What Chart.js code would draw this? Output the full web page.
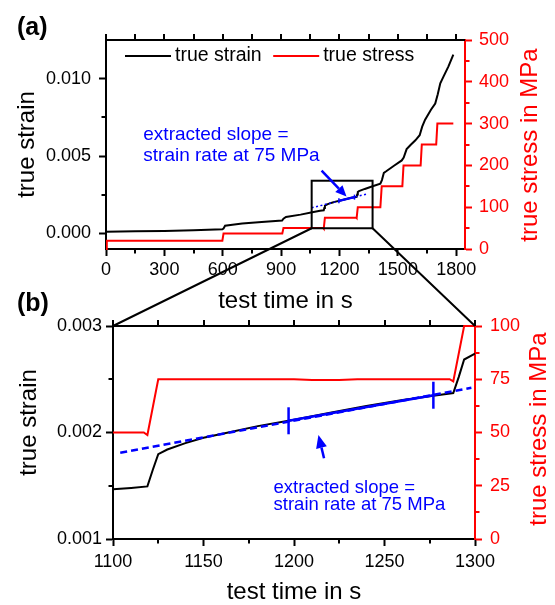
<!DOCTYPE html>
<html>
<head>
<meta charset="utf-8">
<script src="https://cdn.jsdelivr.net/npm/chart.js@4.4.1/dist/chart.umd.min.js"></script>
<style>
  html, body { margin:0; padding:0; background:#ffffff; }
  #wrap { position:relative; width:555px; height:605px; overflow:hidden; background:#fff; }
  #wrap canvas { position:absolute; left:0; }
</style>
</head>
<body>
<div id="wrap">
  <canvas id="chartB" width="555" height="315" style="top:290px;width:555px;height:315px"></canvas>
  <canvas id="chartA" width="555" height="320" style="top:0px;width:555px;height:320px"></canvas>
  <canvas id="links" width="555" height="605" style="top:0px;width:555px;height:605px;pointer-events:none"></canvas>
</div>
<script>
// ---------------- data ----------------
const strainTime = [0, 150, 300, 450, 598, 604, 612, 650, 700, 800, 905, 912, 925, 1000, 1060, 1100, 1110, 1119, 1122, 1125, 1130, 1140, 1150, 1165, 1180, 1200, 1220, 1240, 1260, 1278, 1288, 1291, 1294, 1300, 1330, 1370, 1410, 1418, 1428, 1440, 1480, 1520, 1530, 1545, 1565, 1590, 1612, 1625, 1640, 1670, 1692, 1705, 1718, 1735, 1760, 1785];
const strainValues = [0.00012, 0.00014, 0.00017, 0.00021, 0.00027, 0.00032, 0.00050, 0.00057, 0.00064, 0.00074, 0.00084, 0.00096, 0.00107, 0.00122, 0.00137, 0.001466, 0.00148, 0.001494, 0.00165, 0.001797, 0.00184, 0.0019, 0.00195, 0.002005, 0.00206, 0.00212, 0.002185, 0.00225, 0.002305, 0.002348, 0.00237, 0.00252, 0.002685, 0.00274, 0.00288, 0.00305, 0.00322, 0.00345, 0.00392, 0.00402, 0.00438, 0.00472, 0.0049, 0.00545, 0.00572, 0.00602, 0.00635, 0.0069, 0.00735, 0.008, 0.0084, 0.009, 0.0097, 0.01015, 0.0108, 0.01155];
const stressTime = [0, 4, 598, 604, 906, 912, 1117, 1119, 1125, 1200, 1210, 1225, 1235, 1286, 1288, 1294, 1410, 1417, 1523, 1529, 1617, 1623, 1697, 1703, 1785];
const stressValues = [0, 20, 20, 37, 37, 50, 50, 48.8, 75, 75, 74.6, 74.6, 75, 75, 74, 100, 100, 150, 150, 200, 200, 250, 250, 300, 300];
// extracted slope (linear fit) end points in panel (a) and (b)
const fitTimeA = [1057, 1340];
const fitStrainA = [0.00166, 0.00255];
const fitTimeB = [1104, 1298];
const fitStrainB = [0.00181, 0.00242];
// limits of the fitted interval
const markerTime = [1197, 1277];
const markerStrain = [0.00211, 0.00235];
// tick values
const xTicksA = [0, 300, 600, 900, 1200, 1500, 1800];
const xMinorA = [150, 450, 750, 1050, 1350, 1650];
const yTicksA = [0, 0.005, 0.010];
const yMinorA = [0.0025, 0.0075];
const y2TicksA = [0, 100, 200, 300, 400, 500];
const y2MinorA = [50, 150, 250, 350, 450];
const xTicksB = [1100, 1150, 1200, 1250, 1300];
const xMinorB = [1125, 1175, 1225, 1275];
const yTicksB = [0.001, 0.002, 0.003];
const yMinorB = [0.0015, 0.0025];
const y2TicksB = [0, 25, 50, 75, 100];
const y2MinorB = [12.5, 37.5, 62.5, 87.5];
// zoom window drawn as the box in (a)
const zoomBoxTime = [1057, 1370];
const zoomBoxStrain = [0.00034, 0.00341];
// texts
const annotationLines = ['extracted slope =', 'strain rate at 75 MPa'];
const xTitle = 'test time in s';
const yTitle = 'true strain';
const y2Title = 'true stress in MPa';

// ---------------- drawing ----------------
const FONT = "'Liberation Sans', Arial, Helvetica, sans-serif";
Chart.defaults.font.family = FONT;
const RED = '#ff0000', BLUE = '#0000ff', BLACK = '#000000';
const pts = (xs, ys) => xs.map((x, i) => ({x: x, y: ys[i]}));

function xAxis(o) {
  return {
    type: 'linear', position: 'bottom', min: o.min, max: o.max,
    afterBuildTicks: s => { s.ticks = o.ticks.map(v => ({value: v})); },
    afterFit: s => { s.height = o.height; },
    border: {display: true, color: BLACK, width: 2},
    grid: {display: true, drawOnChartArea: false, drawTicks: true, tickLength: 7, tickWidth: 2, tickColor: BLACK},
    ticks: {color: BLACK, font: {size: 18}, padding: o.pad, maxRotation: 0, minRotation: 0, autoSkip: false, callback: v => String(v)},
    title: {display: true, text: xTitle, color: BLACK, font: {size: 24, lineHeight: o.titleLH}, padding: {top: 0, bottom: o.titlePad}}
  };
}
function yAxis(o) {
  return {
    type: 'linear', position: o.position, min: o.min, max: o.max,
    afterBuildTicks: s => { s.ticks = o.ticks.map(v => ({value: v})); },
    afterFit: s => { s.width = o.width; },
    border: {display: true, color: o.color, width: 2},
    grid: {display: true, drawOnChartArea: false, drawTicks: true, tickLength: 7, tickWidth: 2, tickColor: o.color},
    ticks: {color: o.color, font: {size: 18}, padding: o.pad, autoSkip: false, callback: o.fmt},
    title: {display: false}
  };
}
function seg(ctx, x1, y1, x2, y2) { ctx.beginPath(); ctx.moveTo(x1, y1); ctx.lineTo(x2, y2); ctx.stroke(); }
function arrow(ctx, x1, y1, x2, y2, headLen, headW, lw) {
  const ang = Math.atan2(y2 - y1, x2 - x1);
  const bx = x2 - headLen * Math.cos(ang), by = y2 - headLen * Math.sin(ang);
  ctx.lineWidth = lw;
  seg(ctx, x1, y1, bx, by);
  ctx.beginPath();
  ctx.moveTo(x2, y2);
  ctx.lineTo(bx + headW / 2 * Math.sin(ang), by - headW / 2 * Math.cos(ang));
  ctx.lineTo(bx - headW / 2 * Math.sin(ang), by + headW / 2 * Math.cos(ang));
  ctx.closePath(); ctx.fill();
}
function framePlugin(id, o) {
  return {
    id: id,
    beforeDatasetsDraw(chart) {
      const {ctx, chartArea: a, scales} = chart;
      ctx.save();
      ctx.lineWidth = 2; ctx.strokeStyle = BLACK;
      seg(ctx, a.left - 1, a.top, a.right, a.top);
      o.xTicks.concat(o.xMinor).forEach(v => { const x = Math.round(scales.x.getPixelForValue(v)); seg(ctx, x, a.top, x, a.top - 6); });
      o.xMinor.forEach(v => { const x = Math.round(scales.x.getPixelForValue(v)); seg(ctx, x, a.bottom, x, a.bottom + 4.5); });
      o.yMinor.forEach(v => { const y = Math.round(scales.y.getPixelForValue(v)); seg(ctx, a.left, y, a.left - 4.5, y); });
      ctx.strokeStyle = RED;
      o.y2Minor.forEach(v => { const y = Math.round(scales.y2.getPixelForValue(v)); seg(ctx, a.right, y, a.right + 4.5, y); });
      ctx.restore();
    }
  };
}
function labelsPlugin(id, o) {
  return {
    id: id,
    afterDraw(chart) {
      const ctx = chart.ctx;
      ctx.save();
      ctx.textAlign = 'center'; ctx.textBaseline = 'middle';
      ctx.font = '24px ' + FONT;
      ctx.fillStyle = BLACK;
      ctx.save(); ctx.translate(o.leftX, o.leftY); ctx.rotate(-Math.PI / 2); ctx.fillText(yTitle, 0, 0); ctx.restore();
      ctx.fillStyle = RED;
      ctx.save(); ctx.translate(o.rightX, o.rightY); ctx.rotate(-Math.PI / 2); ctx.fillText(y2Title, 0, 0); ctx.restore();
      ctx.fillStyle = BLACK; ctx.textAlign = 'left';
      ctx.font = 'bold 25px ' + FONT;
      ctx.fillText(o.panel, 17, o.panelY);
      ctx.restore();
    }
  };
}
function annotPlugin(id, o) {
  return {
    id: id,
    afterDatasetsDraw(chart) {
      const {ctx, scales} = chart;
      const X = v => scales.x.getPixelForValue(v), Y = v => scales.y.getPixelForValue(v);
      ctx.save();
      if (o.box) {
        ctx.strokeStyle = BLACK; ctx.lineWidth = 2;
        ctx.strokeRect(X(zoomBoxTime[0]), Y(zoomBoxStrain[1]), X(zoomBoxTime[1]) - X(zoomBoxTime[0]), Y(zoomBoxStrain[0]) - Y(zoomBoxStrain[1]));
      }
      ctx.fillStyle = BLUE; ctx.strokeStyle = BLUE;
      ctx.font = o.fontSize + 'px ' + FONT; ctx.textAlign = 'left'; ctx.textBaseline = 'middle';
      annotationLines.forEach((line, i) => ctx.fillText(line, X(o.textT), Y(o.textS[i])));
      arrow(ctx, X(o.from[0]), Y(o.from[1]), X(o.to[0]), Y(o.to[1]), o.headLen, o.headW, 2.5);
      ctx.restore();
    }
  };
}
const legendPlugin = {
  id: 'inlineLegend',
  afterDraw(chart) {
    const {ctx, chartArea: a} = chart;
    const items = chart.data.datasets.filter(d => d.inLegend);
    ctx.save();
    ctx.font = '19.5px ' + FONT; ctx.textBaseline = 'middle'; ctx.textAlign = 'left';
    let x = a.left + 19; const y = a.top + 16;
    items.forEach(d => {
      ctx.strokeStyle = d.borderColor; ctx.lineWidth = 2;
      seg(ctx, x, y, x + 46, y);
      x += 50;
      ctx.fillStyle = BLACK; ctx.fillText(d.label, x, y);
      x += ctx.measureText(d.label).width + 11.5;
    });
    ctx.restore();
  }
};

const clipOpt = {left: 0, right: 0, top: 2, bottom: 2};

const chartA = new Chart(document.getElementById('chartA'), {
  type: 'line',
  data: { datasets: [
    {label: 'fit', data: pts(fitTimeA, fitStrainA), yAxisID: 'y', borderColor: BLUE, borderWidth: 1.5, borderDash: [2, 2.5], pointRadius: 0, order: 0, clip: clipOpt},
    {label: 'interval', data: pts(markerTime, markerStrain), yAxisID: 'y', borderColor: BLUE, borderWidth: 2.5, pointStyle: 'line', pointRotation: 90, pointRadius: 2.5, pointBorderWidth: 1.5, pointBorderColor: BLUE, order: 0, clip: clipOpt},
    {label: 'true strain', inLegend: true, data: pts(strainTime, strainValues), yAxisID: 'y', borderColor: BLACK, borderWidth: 2, pointRadius: 0, order: 1, clip: clipOpt},
    {label: 'true stress', inLegend: true, data: pts(stressTime, stressValues), yAxisID: 'y2', borderColor: RED, borderWidth: 2, pointRadius: 0, order: 2, clip: clipOpt}
  ]},
  options: {
    responsive: false, animation: false, devicePixelRatio: 1, events: [],
    layout: {padding: {top: 40, left: 0, right: 0, bottom: 0}},
    elements: {line: {tension: 0}},
    plugins: {legend: {display: false}, tooltip: {enabled: false}},
    scales: {
      x: xAxis({min: 0, max: 1845, ticks: xTicksA, height: 71, pad: 3.5, titlePad: 4.6, titleLH: 1.2}),
      y: yAxis({position: 'left', min: -0.001, max: 0.0125, ticks: yTicksA, width: 106, pad: 8, color: BLACK, fmt: v => Number(v).toFixed(3)}),
      y2: yAxis({position: 'right', min: 0, max: 500, ticks: y2TicksA, width: 90, pad: 7, color: RED, fmt: v => String(v)})
    }
  },
  plugins: [
    framePlugin('frameA', {xTicks: xTicksA, xMinor: xMinorA, yMinor: yMinorA, y2Minor: y2MinorA}),
    labelsPlugin('labelsA', {leftX: 27.5, leftY: 144.5, rightX: 530, rightY: 145, panel: '(a)', panelY: 28}),
    annotPlugin('annA', {box: true, fontSize: 19, textT: 191.6, textS: [0.0064, 0.00503], from: [1108, 0.00406], to: [1236, 0.00239], headLen: 11, headW: 10}),
    legendPlugin
  ]
});

const chartB = new Chart(document.getElementById('chartB'), {
  type: 'line',
  data: { datasets: [
    {label: 'fit', data: pts(fitTimeB, fitStrainB), yAxisID: 'y', borderColor: BLUE, borderWidth: 2.5, borderDash: [7, 4], pointRadius: 0, order: 0, clip: clipOpt},
    {label: 'interval', data: pts(markerTime, markerStrain), yAxisID: 'y', borderColor: BLUE, borderWidth: 2.5, pointStyle: 'line', pointRotation: 90, pointRadius: 13.5, pointBorderWidth: 2.5, pointBorderColor: BLUE, order: 0, clip: clipOpt},
    {label: 'true strain', data: pts(strainTime, strainValues), yAxisID: 'y', borderColor: BLACK, borderWidth: 2, pointRadius: 0, order: 1, clip: clipOpt},
    {label: 'true stress', data: pts(stressTime, stressValues), yAxisID: 'y2', borderColor: RED, borderWidth: 2, pointRadius: 0, order: 2, clip: clipOpt}
  ]},
  options: {
    responsive: false, animation: false, devicePixelRatio: 1, events: [],
    layout: {padding: {top: 36, left: 0, right: 0, bottom: 0}},
    elements: {line: {tension: 0}},
    plugins: {legend: {display: false}, tooltip: {enabled: false}},
    scales: {
      x: xAxis({min: 1100, max: 1300, ticks: xTicksB, height: 66, pad: 5, titlePad: 1, titleLH: 1.0}),
      y: yAxis({position: 'left', min: 0.001, max: 0.003, ticks: yTicksB, width: 113, pad: 4, color: BLACK, fmt: v => Number(v).toFixed(3)}),
      y2: yAxis({position: 'right', min: 0, max: 100, ticks: y2TicksB, width: 80, pad: 8, color: RED, fmt: v => String(v)})
    }
  },
  plugins: [
    framePlugin('frameB', {xTicks: xTicksB, xMinor: xMinorB, yMinor: yMinorB, y2Minor: y2MinorB}),
    labelsPlugin('labelsB', {leftX: 29, leftY: 132.5, rightX: 539, rightY: 139, panel: '(b)', panelY: 14}),
    annotPlugin('annB', {box: false, fontSize: 18.5, textT: 1188.7, textS: [0.001476, 0.001319], from: [1216.6, 0.001758], to: [1213.5, 0.001977], headLen: 13, headW: 11})
  ]
});

(function drawLinks() {
  const c = document.getElementById('links').getContext('2d');
  const ca = document.getElementById('chartA'), cb = document.getElementById('chartB');
  const xa = chartA.scales.x, ya = chartA.scales.y;
  const yb = ya.getPixelForValue(zoomBoxStrain[0]) + ca.offsetTop;
  const xl = xa.getPixelForValue(zoomBoxTime[0]), xr = xa.getPixelForValue(zoomBoxTime[1]);
  const b = chartB.chartArea;
  c.strokeStyle = BLACK; c.lineWidth = 2;
  c.beginPath();
  c.moveTo(xl, yb); c.lineTo(b.left, b.top + cb.offsetTop);
  c.moveTo(xr, yb); c.lineTo(b.right, b.top + cb.offsetTop);
  c.stroke();
})();
</script>
</body>
</html>
